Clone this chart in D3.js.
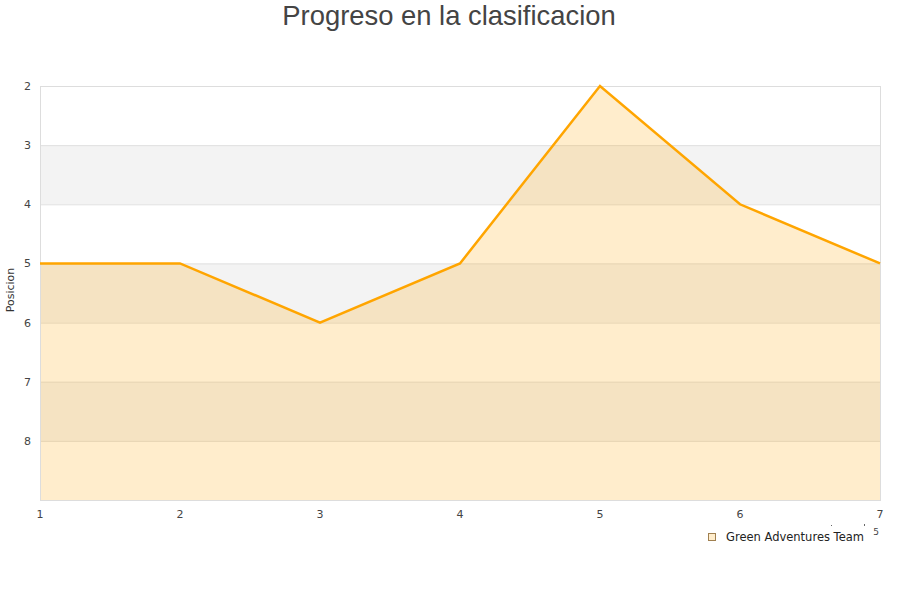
<!DOCTYPE html>
<html><head><meta charset="utf-8">
<script src="https://cdn.jsdelivr.net/npm/d3@7"></script>
<style>body{margin:0;background:#fff}svg{display:block}</style>
</head><body>
<svg id="c" width="900" height="600"></svg>
<script>
const rounds = [1, 2, 3, 4, 5, 6, 7];
const positions = [5, 5, 6, 5, 2, 4, 5];
const yTicks = [2, 3, 4, 5, 6, 7, 8];
const seriesName = "Green Adventures Team";
const title = "Progreso en la clasificacion";
const yTitle = "Posicion";

const svg = d3.select("#c");
const m = {l: 40, r: 880, t: 86, b: 500};
const x = d3.scaleLinear().domain([1, 7]).range([m.l, m.r]);
const y = d3.scaleLinear().domain([2, 9]).range([m.t, m.b]);

// bands
const bands = [[3,4],[5,6],[7,8]];
svg.selectAll("rect.band").data(bands).enter().append("rect")
  .attr("x", m.l).attr("width", m.r - m.l)
  .attr("y", d => y(d[0])).attr("height", d => y(d[1]) - y(d[0]))
  .attr("fill", "#f3f3f3");
// grid
svg.selectAll("line.grid").data(yTicks.slice(1)).enter().append("line")
  .attr("x1", m.l).attr("x2", m.r)
  .attr("y1", d => y(d) + 0.5).attr("y2", d => y(d) + 0.5)
  .attr("stroke", "#e0e0e0");
// area
const area = d3.area().x((d,i) => x(rounds[i])).y0(m.b).y1(d => y(d));
svg.append("path").datum(positions).attr("d", area)
  .attr("fill", "rgba(255,165,0,0.2)");
// border
svg.append("rect").attr("x", m.l + 0.5).attr("y", m.t + 0.5)
  .attr("width", m.r - m.l).attr("height", m.b - m.t)
  .attr("fill", "none").attr("stroke", "#dddddd");
// line
const line = d3.line().x((d,i) => x(rounds[i])).y(d => y(d));
svg.append("path").datum(positions).attr("d", line)
  .attr("fill", "none").attr("stroke", "#ffa500").attr("stroke-width", 2.5);

// y ticks
svg.selectAll("text.yt").data(yTicks).enter().append("text")
  .attr("x", 31).attr("y", d => y(d) + 4).attr("text-anchor", "end")
  .attr("font-family", "DejaVu Sans").attr("font-size", 11).attr("fill", "#444")
  .text(d => d);
// x ticks
svg.selectAll("text.xt").data(rounds).enter().append("text")
  .attr("x", d => x(d)).attr("y", 518).attr("text-anchor", "middle")
  .attr("font-family", "DejaVu Sans").attr("font-size", 11).attr("fill", "#444")
  .text(d => d);
// y title
svg.append("text").attr("transform", "translate(14,290) rotate(-90)")
  .attr("text-anchor", "middle").attr("font-family", "DejaVu Sans")
  .attr("font-size", 11).attr("fill", "#333").text(yTitle);
// title
svg.append("text").attr("x", 449).attr("y", 25).attr("text-anchor", "middle")
  .attr("font-family", "Liberation Sans, Arial").attr("font-size", 27.4).attr("fill", "#444")
  .text(title);
// stray fragments
svg.append("text").attr("x", 876).attr("y", 535).attr("text-anchor", "middle")
  .attr("font-family", "DejaVu Sans").attr("font-size", 9).attr("fill", "#444").text("5");
svg.append("rect").attr("x", 831).attr("y", 525).attr("width", 1).attr("height", 1).attr("fill", "#666");
svg.append("rect").attr("x", 864).attr("y", 524).attr("width", 1).attr("height", 2).attr("fill", "#666");
// legend
svg.append("rect").attr("x", 708.5).attr("y", 533.5).attr("width", 7).attr("height", 7)
  .attr("fill", "#ffedcc").attr("stroke", "#a08050");
svg.append("text").attr("x", 726).attr("y", 541).attr("font-family", "DejaVu Sans")
  .attr("font-size", 11.5).attr("fill", "#222").text(seriesName);
</script>
</body></html>
